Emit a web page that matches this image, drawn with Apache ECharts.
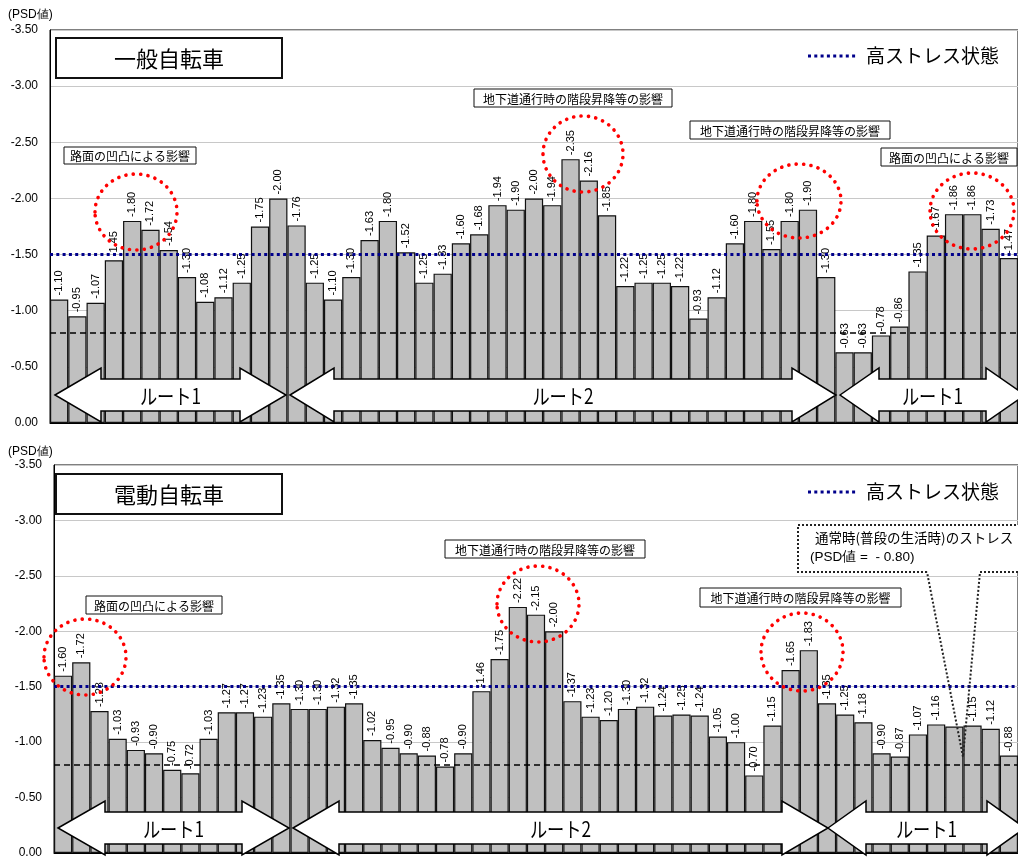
<!DOCTYPE html>
<html>
<head>
<meta charset="utf-8">
<script src="https://cdn.jsdelivr.net/npm/echarts@6/dist/echarts.min.js"></script>
<style>
html, body { margin: 0; padding: 0; background: #fff; }
#chart { width: 1018px; height: 859px; }
</style>
</head>
<body>
<div id="chart"></div>
<script>
// PSD values per measurement section (negative = more stress)
const generalBike = [
  -1.10, -0.95, -1.07, -1.45, -1.80, -1.72, -1.54, -1.30, -1.08, -1.12,
  -1.25, -1.75, -2.00, -1.76, -1.25, -1.10, -1.30, -1.63, -1.80, -1.52,
  -1.25, -1.33, -1.60, -1.68, -1.94, -1.90, -2.00, -1.94, -2.35, -2.16,
  -1.85, -1.22, -1.25, -1.25, -1.22, -0.93, -1.12, -1.60, -1.80, -1.55,
  -1.80, -1.90, -1.30, -0.63, -0.63, -0.78, -0.86, -1.35, -1.67, -1.86,
  -1.86, -1.73, -1.47
];
const electricBike = [
  -1.60, -1.72, -1.28, -1.03, -0.93, -0.90, -0.75, -0.72, -1.03, -1.27,
  -1.27, -1.23, -1.35, -1.30, -1.30, -1.32, -1.35, -1.02, -0.95, -0.90,
  -0.88, -0.78, -0.90, -1.46, -1.75, -2.22, -2.15, -2.00, -1.37, -1.23,
  -1.20, -1.30, -1.32, -1.24, -1.25, -1.24, -1.05, -1.00, -0.70, -1.15,
  -1.65, -1.83, -1.35, -1.25, -1.18, -0.90, -0.87, -1.07, -1.16, -1.14,
  -1.15, -1.12, -0.88
];
// sections whose value label is covered by the callout pointer
const electricHiddenLabels = [49];
const sections = generalBike.map((_, i) => String(i + 1));
const yMin = -3.5;
const yMax = 0;
const yStep = 0.5;
const highStressLevel = -1.5;
const normalLevel = -0.8;
const panelTitles = ['一般自転車', '電動自転車'];
const legendText = '高ストレス状態';
const yAxisName = '(PSD値)';
const routeNames = ['ルート1', 'ルート2', 'ルート1'];
const noteStairs = '地下道通行時の階段昇降等の影響';
const noteRoad = '路面の凹凸による影響';
const calloutLines = ['通常時(普段の生活時)のストレス', '(PSD値 =  - 0.80)'];

const JP = '"Noto Sans CJK JP", sans-serif';
const NUM = '"Liberation Sans", Arial, sans-serif';

const chart = echarts.init(document.getElementById('chart'), null, { renderer: 'canvas' });

const grids = [
  { left: 50, top: 30, width: 978, height: 393 },
  { left: 54, top: 465, width: 978, height: 390 }
];

function xAxis(i) {
  return {
    type: 'category', gridIndex: i, data: sections,
    axisLine: { show: true, lineStyle: { color: '#000', width: 1 } },
    axisTick: { show: false }, axisLabel: { show: false }, splitLine: { show: false }
  };
}
function yAxis(i) {
  return {
    type: 'value', gridIndex: i, inverse: true, min: yMin, max: yMax, interval: yStep,
    axisLine: { show: true, lineStyle: { color: '#000', width: 1 } },
    axisTick: { show: false },
    axisLabel: { color: '#000', fontSize: 12, fontFamily: NUM, margin: 12,
      formatter: v => v.toFixed(2) },
    splitLine: { show: true, lineStyle: { color: '#c8c8c8', width: 1 } }
  };
}
function barSeries(i, values, hidden) {
  return {
    type: 'bar', xAxisIndex: i, yAxisIndex: i,
    data: values.map((v, k) => hidden.includes(k) ? { value: v, label: { show: false } } : v),
    barCategoryGap: '0%',
    itemStyle: { color: '#c0c0c0', borderColor: '#111', borderWidth: 1.2 },
    label: {
      show: true, position: 'top', rotate: 90, align: 'left', verticalAlign: 'middle',
      distance: 4, fontSize: 11, fontFamily: NUM, color: '#000',
      formatter: p => Number(p.value).toFixed(2)
    },
    markLine: {
      silent: true, symbol: 'none', label: { show: false }, animation: false,
      data: [
        { yAxis: normalLevel, lineStyle: { color: '#000', width: 1.6, type: [6, 4] } },
        { yAxis: highStressLevel, lineStyle: { color: '#00008b', width: 3, type: [3, 3.3] } }
      ]
    }
  };
}

// ---- decorations ----
const g = [];
function text(x, y, str, size, opts) {
  g.push(Object.assign({
    type: 'text', z: 30,
    style: Object.assign({ text: str, x: x, y: y, fill: '#000', fontSize: size, fontFamily: JP,
      align: 'center', verticalAlign: 'middle' }, (opts && opts.style) || {})
  }, (opts && opts.el) || {}));
}
function box(x, y, w, h, lw, str, size) {
  g.push({ type: 'rect', z: 18, shape: { x: x, y: y, width: w, height: h },
    style: { fill: '#fff', stroke: '#111', lineWidth: lw } });
  text(x + w / 2, y + h / 2 + 1, str, size);
}
function redRing(cx, cy, rx, ry) {
  g.push({ type: 'ellipse', z: 19, shape: { cx: cx, cy: cy, rx: rx, ry: ry },
    style: { fill: null, stroke: '#ff0000', lineWidth: 3.6, lineDash: [0.1, 7.3], lineCap: 'round' } });
}
function routeArrow(x1, x2, cy, name, head) {
  const hh = 27, sh = 16;
  g.push({ type: 'polygon', z: 15,
    shape: { points: [
      [x1, cy], [x1 + head, cy - hh], [x1 + head, cy - sh], [x2 - head, cy - sh], [x2 - head, cy - hh],
      [x2, cy], [x2 - head, cy + hh], [x2 - head, cy + sh], [x1 + head, cy + sh], [x1 + head, cy + hh]
    ] },
    style: { fill: '#fff', stroke: '#000', lineWidth: 1.5 } });
  const tx = (x1 + Math.min(x2, 1060)) / 2;
  text(tx, cy + 1, name, 21, { el: { scaleX: 0.82, x: tx * 0.18, originX: 0 } });
}
function legend(y) {
  g.push({ type: 'line', z: 20, shape: { x1: 808, y1: y, x2: 856, y2: y },
    style: { stroke: '#00008b', lineWidth: 3, lineDash: [3, 3.3] } });
  text(866, y, legendText, 19, { style: { align: 'left' } });
}

// top panel
text(8, 15, yAxisName, 12, { style: { align: 'left', fontFamily: NUM } });
box(56, 38, 226, 40, 2, panelTitles[0], 22);
legend(56);
box(474, 89, 198, 18, 1, noteStairs, 12);
box(64, 147, 132, 17, 1, noteRoad, 12);
box(690, 121, 200, 18, 1, noteStairs, 12);
box(881, 148, 136, 18, 1, noteRoad, 12);
redRing(136, 212, 41, 38);
redRing(583, 154, 40, 38);
redRing(799, 201, 42, 37);
redRing(972, 211, 42, 38);
routeArrow(55, 286, 395, routeNames[0], 46);
routeArrow(290, 836, 395, routeNames[1], 44);
routeArrow(840, 1025, 395, routeNames[2], 39);

// bottom panel
text(8, 452, yAxisName, 12, { style: { align: 'left', fontFamily: NUM } });
box(56, 474, 226, 40, 2, panelTitles[1], 22);
legend(492);
box(445, 540, 200, 18, 1, noteStairs, 12);
box(86, 596, 136, 18, 1, noteRoad, 12);
box(700, 588, 201, 19, 1, noteStairs, 12);
redRing(85, 657, 41, 38);
redRing(538, 604, 41, 38);
redRing(802, 652, 41, 39);
routeArrow(58, 289, 828, routeNames[0], 47);
routeArrow(293, 828, 828, routeNames[1], 46);
routeArrow(828, 1025, 828, routeNames[2], 38);

// callout for the normal-level line
g.push({ type: 'rect', z: 21, shape: { x: 798, y: 525, width: 240, height: 47 },
  style: { fill: '#fff', stroke: null } });
g.push({ type: 'polyline', z: 22,
  shape: { points: [[927, 572], [798, 572], [798, 525], [1030, 525]] },
  style: { fill: null, stroke: '#222', lineWidth: 2, lineDash: [2, 2] } });
g.push({ type: 'polyline', z: 22,
  shape: { points: [[1030, 572], [980, 572], [963, 757], [927, 572]] },
  style: { fill: null, stroke: '#222', lineWidth: 2, lineDash: [2, 2] } });
text(815, 538, calloutLines[0], 13.5, { style: { align: 'left' } });
text(810, 557, calloutLines[1], 13.5, { style: { align: 'left', fontFamily: NUM } });

chart.setOption({
  animation: false,
  backgroundColor: '#fff',
  grid: grids.map(r => Object.assign({ show: true, borderColor: '#000', borderWidth: 1,
    backgroundColor: 'transparent', containLabel: false }, r)),
  xAxis: [xAxis(0), xAxis(1)],
  yAxis: [yAxis(0), yAxis(1)],
  series: [barSeries(0, generalBike, []), barSeries(1, electricBike, electricHiddenLabels)],
  graphic: g
});
</script>
</body>
</html>
